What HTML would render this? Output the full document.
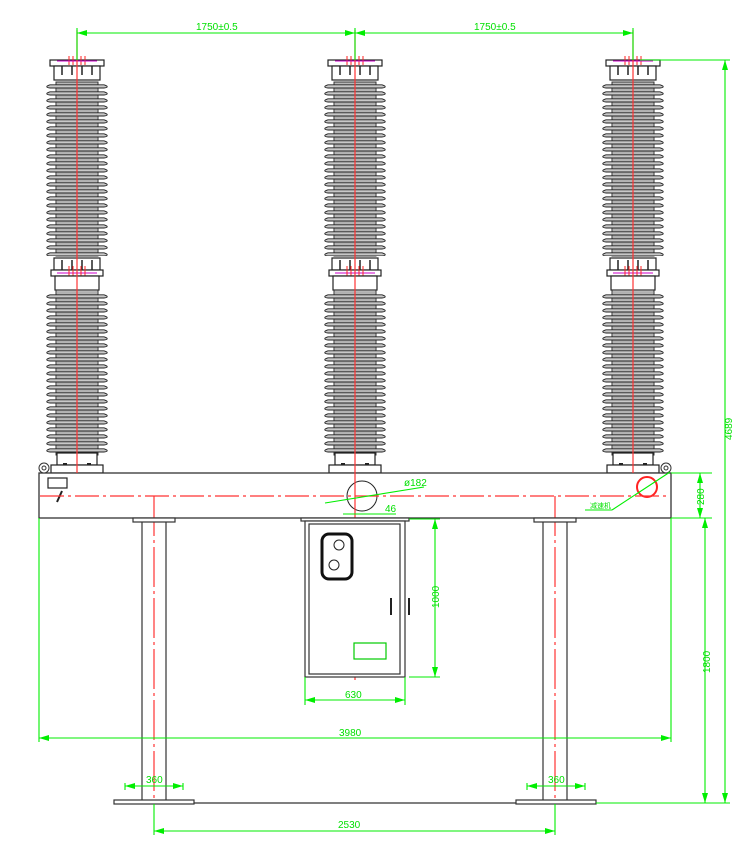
<!DOCTYPE html>
<html><head><meta charset="utf-8"><style>html,body{margin:0;padding:0;background:#fff}svg{display:block}text{font-family:"Liberation Sans",sans-serif;fill:#00e000}</style></head>
<body>
<svg width="750" height="863" viewBox="0 0 750 863" xmlns="http://www.w3.org/2000/svg">
<defs>
<marker id="a" viewBox="0 0 10 6" refX="10" refY="3" markerWidth="10" markerHeight="6" orient="auto-start-reverse" markerUnits="userSpaceOnUse"><path d="M0 0 L10 3 L0 6Z" fill="#0e0"/></marker>
<pattern id="sh" x="-35" y="0" width="70" height="7" patternUnits="userSpaceOnUse">
<path d="M8 0.8 H62 Q66 2 65 3.2 Q64 4 62 4 H8 Q6 4 5 3.2 Q4 2 8 0.8 Z" fill="#c8c8c8" stroke="#222" stroke-width="0.9"/>
<rect x="14" y="4.5" width="42" height="2" fill="#b0b0b0"/>
<path d="M14 4.5 V6.5 M56 4.5 V6.5" stroke="#333" stroke-width="0.8"/>
</pattern>
<g id="ins">
<rect x="-27" y="60" width="54" height="6" fill="#fff" stroke="#222" stroke-width="1.2"/>
<rect x="-23" y="66" width="46" height="14" fill="#fff" stroke="#222" stroke-width="1.2"/>
<line x1="-15" y1="66" x2="-15" y2="75" stroke="#222" stroke-width="1.5"/><line x1="-5" y1="66" x2="-5" y2="75" stroke="#222" stroke-width="1.5"/><line x1="5" y1="66" x2="5" y2="75" stroke="#222" stroke-width="1.5"/><line x1="15" y1="66" x2="15" y2="75" stroke="#222" stroke-width="1.5"/>
<line x1="-8" y1="56" x2="-8" y2="65" stroke="#f22"/><line x1="-4" y1="56" x2="-4" y2="65" stroke="#f22"/><line x1="0" y1="56" x2="0" y2="65" stroke="#f22"/><line x1="4" y1="56" x2="4" y2="65" stroke="#f22"/><line x1="8" y1="56" x2="8" y2="65" stroke="#f22"/>
<line x1="-20" y1="61" x2="20" y2="61" stroke="#c0c"/>
<rect x="-21" y="82" width="42" height="174" fill="#b8b8b8" stroke="#333"/>
<rect x="-35" y="84" width="70" height="172" fill="url(#sh)"/>
<rect x="-23" y="258" width="46" height="12" fill="#fff" stroke="#222" stroke-width="1.2"/>
<line x1="-15" y1="260" x2="-15" y2="270" stroke="#222" stroke-width="1.5"/><line x1="-5" y1="260" x2="-5" y2="270" stroke="#222" stroke-width="1.5"/><line x1="5" y1="260" x2="5" y2="270" stroke="#222" stroke-width="1.5"/><line x1="15" y1="260" x2="15" y2="270" stroke="#222" stroke-width="1.5"/>
<rect x="-26" y="270" width="52" height="6" fill="#fff" stroke="#222" stroke-width="1.2"/>
<line x1="-20" y1="273" x2="20" y2="273" stroke="#c0c"/>
<line x1="-8" y1="266" x2="-8" y2="280" stroke="#f22"/><line x1="-4" y1="266" x2="-4" y2="280" stroke="#f22"/><line x1="0" y1="266" x2="0" y2="280" stroke="#f22"/><line x1="4" y1="266" x2="4" y2="280" stroke="#f22"/><line x1="8" y1="266" x2="8" y2="280" stroke="#f22"/>
<rect x="-22" y="276" width="44" height="14" fill="#fff" stroke="#222" stroke-width="1.2"/>
<rect x="-21" y="290" width="42" height="165" fill="#b8b8b8" stroke="#333"/>
<rect x="-35" y="292" width="70" height="161" fill="url(#sh)"/>
<rect x="-20" y="453" width="40" height="12" fill="#fff" stroke="#222" stroke-width="1.2"/>
<rect x="-26" y="465" width="52" height="8" fill="#fff" stroke="#222" stroke-width="1.2"/>
<rect x="-14" y="463" width="4" height="2" fill="#222"/><rect x="10" y="463" width="4" height="2" fill="#222"/>
</g>
</defs>
<use href="#ins" x="77"/><use href="#ins" x="355"/><use href="#ins" x="633"/>
<rect x="39" y="473" width="632" height="45" fill="#fff" stroke="#333" stroke-width="1.3"/>
<circle cx="44" cy="468" r="5" fill="#fff" stroke="#333"/><circle cx="44" cy="468" r="2" fill="none" stroke="#333"/>
<circle cx="666" cy="468" r="5" fill="#fff" stroke="#333"/><circle cx="666" cy="468" r="2" fill="none" stroke="#333"/>
<rect x="48" y="478" width="19" height="10" fill="#fff" stroke="#222" stroke-width="1.2"/>
<line x1="62" y1="491" x2="57" y2="502" stroke="#222" stroke-width="2"/>
<circle cx="362" cy="496" r="15" fill="#fff" stroke="#222"/>
<circle cx="647" cy="487" r="10" fill="none" stroke="#f22" stroke-width="2"/>
<g stroke="#f33" stroke-width="1.2" fill="none">
<line x1="40" y1="496" x2="670" y2="496" stroke-dasharray="24,4,3,4"/>
<line x1="77" y1="30" x2="77" y2="473"/><line x1="355" y1="30" x2="355" y2="680"/><line x1="633" y1="30" x2="633" y2="473"/>
<line x1="154" y1="496" x2="154" y2="804" stroke-dasharray="40,4,3,4"/>
<line x1="555" y1="496" x2="555" y2="804" stroke-dasharray="40,4,3,4"/>
</g>
<g fill="#fff" stroke="#333" stroke-width="1.2">
<rect x="133" y="518" width="42" height="4"/><rect x="534" y="518" width="42" height="4"/>
<line x1="142" y1="522" x2="142" y2="800"/><line x1="166" y1="522" x2="166" y2="800"/>
<line x1="543" y1="522" x2="543" y2="800"/><line x1="567" y1="522" x2="567" y2="800"/>
<rect x="114" y="800" width="80" height="4"/><rect x="516" y="800" width="80" height="4"/>
<line x1="194" y1="803" x2="516" y2="803"/>
</g>
<g fill="#fff" stroke="#333" stroke-width="1.2">
<rect x="301" y="518" width="108" height="3"/>
<rect x="305" y="521" width="100" height="156"/>
<rect x="309" y="524" width="91" height="150"/>
</g>
<rect x="322" y="534" width="30" height="45" rx="7" fill="none" stroke="#111" stroke-width="3"/>
<circle cx="339" cy="545" r="5" fill="#fff" stroke="#222"/><circle cx="334" cy="565" r="5" fill="#fff" stroke="#222"/>
<rect x="354" y="643" width="32" height="16" fill="none" stroke="#0c0" stroke-width="1.2"/>
<line x1="391" y1="598" x2="391" y2="615" stroke="#222" stroke-width="2"/><line x1="409" y1="598" x2="409" y2="615" stroke="#222" stroke-width="2"/>
<g stroke="#0e0" stroke-width="1.1" fill="none">
<line x1="77" y1="28" x2="77" y2="60"/><line x1="355" y1="28" x2="355" y2="60"/><line x1="633" y1="28" x2="633" y2="60"/>
<line x1="77" y1="33" x2="355" y2="33" marker-start="url(#a)" marker-end="url(#a)"/>
<line x1="355" y1="33" x2="633" y2="33" marker-start="url(#a)" marker-end="url(#a)"/>
<line x1="640" y1="60" x2="730" y2="60"/><line x1="725" y1="60" x2="725" y2="803" marker-start="url(#a)" marker-end="url(#a)"/>
<line x1="596" y1="803" x2="730" y2="803"/><line x1="705" y1="518" x2="705" y2="803" marker-start="url(#a)" marker-end="url(#a)"/>
<line x1="671" y1="518" x2="712" y2="518"/><line x1="671" y1="473" x2="712" y2="473"/><line x1="700" y1="473" x2="700" y2="518" marker-start="url(#a)" marker-end="url(#a)"/>
<line x1="39" y1="518" x2="39" y2="742"/><line x1="671" y1="518" x2="671" y2="742"/><line x1="39" y1="738" x2="671" y2="738" marker-start="url(#a)" marker-end="url(#a)"/>
<line x1="154" y1="804" x2="154" y2="835"/><line x1="555" y1="804" x2="555" y2="835"/><line x1="154" y1="831" x2="555" y2="831" marker-start="url(#a)" marker-end="url(#a)"/>
<line x1="125" y1="783" x2="125" y2="790"/><line x1="183" y1="783" x2="183" y2="790"/><line x1="125" y1="786" x2="183" y2="786" marker-start="url(#a)" marker-end="url(#a)"/>
<line x1="527" y1="783" x2="527" y2="790"/><line x1="585" y1="783" x2="585" y2="790"/><line x1="527" y1="786" x2="585" y2="786" marker-start="url(#a)" marker-end="url(#a)"/>
<line x1="409" y1="519" x2="440" y2="519"/><line x1="409" y1="677" x2="440" y2="677"/><line x1="435" y1="519" x2="435" y2="677" marker-start="url(#a)" marker-end="url(#a)"/>
<line x1="305" y1="677" x2="305" y2="705"/><line x1="405" y1="677" x2="405" y2="705"/><line x1="305" y1="700" x2="405" y2="700" marker-start="url(#a)" marker-end="url(#a)"/>
<line x1="325" y1="503" x2="424" y2="487"/><line x1="343" y1="514" x2="396" y2="514"/>
<line x1="585" y1="510" x2="612" y2="510"/><line x1="612" y1="510" x2="670" y2="472"/>
</g>
<g font-size="10">
<text x="196" y="30">1750±0.5</text><text x="474" y="30">1750±0.5</text>
<text x="404" y="486">ø182</text><text x="385" y="512">46</text>
<text x="339" y="736">3980</text><text x="338" y="828">2530</text>
<text x="146" y="783">360</text><text x="548" y="783">360</text>
<text x="345" y="698">630</text>
<text x="590" y="508" font-size="7">减速机</text>
<text transform="translate(732,440) rotate(-90)">4689</text>
<text transform="translate(710,673) rotate(-90)">1800</text>
<text transform="translate(704,505) rotate(-90)">280</text>
<text transform="translate(439,608) rotate(-90)">1000</text>
</g>
</svg>
</body></html>
